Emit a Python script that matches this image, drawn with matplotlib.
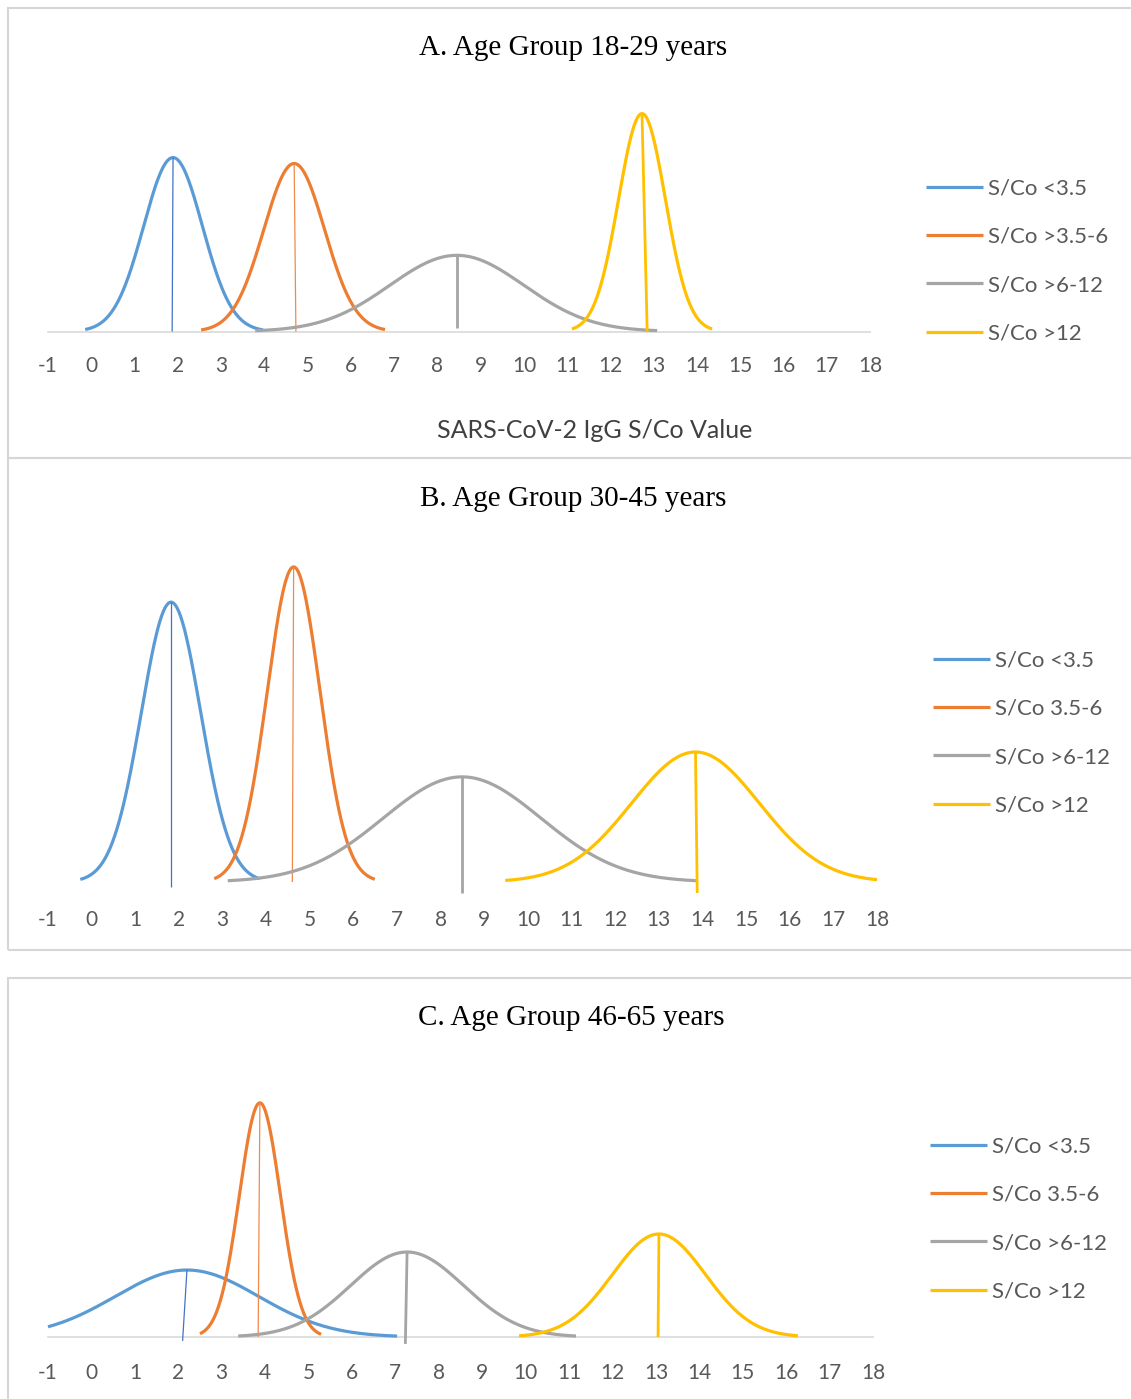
import numpy as np
import matplotlib
matplotlib.use('Agg')
import matplotlib.pyplot as plt
from matplotlib.patches import Rectangle

W, H = 1131, 1399

# ---------------- data ----------------
x_ticks = list(range(-1, 19))
series_colors = ['#5B9BD5', '#ED7D31', '#A5A5A5', '#FFC000']
mean_line_colors = ['#4472C4', '#F08A4B', '#A5A5A5', '#FFC000']
mean_line_widths = [0.9, 0.9, 2.0, 2.0]

titles = ['A. Age Group 18-29 years', 'B. Age Group 30-45 years', 'C. Age Group 46-65 years']
labels_A = ['S/Co <3.5', 'S/Co >3.5-6', 'S/Co >6-12', 'S/Co >12']
labels_B = ['S/Co <3.5', 'S/Co 3.5-6', 'S/Co >6-12', 'S/Co >12']
labels_C = ['S/Co <3.5', 'S/Co 3.5-6', 'S/Co >6-12', 'S/Co >12']
x_axis_title = 'SARS-CoV-2 IgG S/Co Value'

# Panel A (18-29 years): normal curves
means_A = [1.89, 4.69, 8.45, 12.73]
sds_A = [0.679, 0.703, 1.55, 0.542]
start_A = [-0.14, 2.54, 3.79, 11.11]
end_A = [3.97, 6.79, 13.08, 14.35]
vline_x_bottom_A = [1.87, 4.73, 8.45, 12.85]
vline_y_bottom_A = [0.0, 0.0, 0.012, 0.0]

# Panel B (30-45 years)
means_B = [1.82, 4.63, 8.49, 13.84]
sds_B = [0.680, 0.604, 1.81, 1.464]
start_B = [-0.26, 2.81, 3.12, 9.48]
end_B = [3.85, 6.49, 13.86, 18.0]
vline_x_bottom_B = [1.82, 4.60, 8.49, 13.88]
vline_y_bottom_B = [-0.010, 0.0, -0.023, -0.023]

# Panel C (46-65 years)
means_C = [2.20, 3.88, 7.27, 13.07]
sds_C = [1.65, 0.472, 1.30, 1.073]
start_C = [-1.0, 2.50, 3.38, 9.85]
end_C = [7.04, 5.29, 11.16, 16.27]
vline_x_bottom_C = [2.10, 3.84, 7.23, 13.05]
vline_y_bottom_C = [-0.014, 0.0, -0.025, 0.0]

# ---------------- layout (pixels) ----------------
panels = [
    dict(means=means_A, sds=sds_A, start=start_A, end=end_A, vxb=vline_x_bottom_A, vyb=vline_y_bottom_A,
         labels=labels_A, left=48, right=870, base=331.5, top=90, scale=296, axis_line=True,
         title_y=48, title_x=573, tick_pad=18, leg_x=926, leg_y=261),
    dict(means=means_B, sds=sds_B, start=start_B, end=end_B, vxb=vline_x_bottom_B, vyb=vline_y_bottom_B,
         labels=labels_B, left=48, right=877, base=882, top=540, scale=477, axis_line=False,
         title_y=499, title_x=573, tick_pad=20, leg_x=933, leg_y=733),
    dict(means=means_C, sds=sds_C, start=start_C, end=end_C, vxb=vline_x_bottom_C, vyb=vline_y_bottom_C,
         labels=labels_C, left=48, right=873, base=1337, top=1080, scale=277, axis_line=True,
         title_y=1018, title_x=571, tick_pad=19, leg_x=930, leg_y=1219),
]
borders = [(8, 8, 458), (8, 458, 950), (8, 978, 1410)]

fig = plt.figure(figsize=(W / 100, H / 100), dpi=100)
fig.patch.set_facecolor('white')

for (bx, by0, by1) in borders:
    fig.patches.append(Rectangle((bx / W, 1 - by1 / H), (W + 20 - bx) / W, (by1 - by0) / H,
                                 transform=fig.transFigure, fill=False,
                                 edgecolor='#D6D6D6', linewidth=1.5))


def pdf(x, m, s):
    return np.exp(-0.5 * ((x - m) / s) ** 2) / (s * np.sqrt(2 * np.pi))


for k, p in enumerate(panels):
    ax = fig.add_axes([p['left'] / W, 1 - p['base'] / H,
                       (p['right'] - p['left']) / W, (p['base'] - p['top']) / H])
    ax.set_xlim(-1, 18)
    ax.set_ylim(0, (p['base'] - p['top']) / p['scale'])
    ax.patch.set_alpha(0)
    handles = []
    for i in range(4):
        m, s = p['means'][i], p['sds'][i]
        xs = np.linspace(p['start'][i], p['end'][i], 300)
        ln, = ax.plot(xs, pdf(xs, m, s), color=series_colors[i], lw=2.3,
                      solid_capstyle='butt', clip_on=False, label=p['labels'][i])
        handles.append(ln)
        ax.plot([p['vxb'][i], m], [p['vyb'][i], pdf(m, m, s)], color=mean_line_colors[i],
                lw=mean_line_widths[i], clip_on=False, solid_capstyle='butt')
    for sp in ['top', 'left', 'right']:
        ax.spines[sp].set_visible(False)
    if p['axis_line']:
        ax.spines['bottom'].set_color('#D9D9D9')
        ax.spines['bottom'].set_linewidth(1.2)
    else:
        ax.spines['bottom'].set_visible(False)
    ax.spines['bottom'].set_zorder(0)
    ax.set_yticks([])
    ax.set_xticks(x_ticks)
    ax.set_xticklabels([str(t) for t in x_ticks])
    ax.tick_params(axis='x', length=0, pad=p['tick_pad'], labelsize=15, labelcolor='#595959')
    for lbl in ax.get_xticklabels():
        lbl.set_fontfamily('Lato')
    leg = ax.legend(handles=handles, loc='center left',
                    bbox_to_anchor=(p['leg_x'] / W, 1 - p['leg_y'] / H),
                    bbox_transform=fig.transFigure, frameon=False,
                    prop={'family': 'Lato', 'size': 16}, handlelength=2.57,
                    handletextpad=0.23, labelspacing=1.27, borderpad=0, borderaxespad=0)
    for t in leg.get_texts():
        t.set_color('#595959')
    for lh in leg.get_lines():
        lh.set_linewidth(2.3)
    fig.text(p['title_x'] / W, 1 - p['title_y'] / H, titles[k],
             ha='center', va='center', family='Liberation Serif', size=21, color='black')

fig.text(595 / W, 1 - 430 / H, x_axis_title, ha='center', va='center',
         family='Lato', size=18, color='#404040')

fig.savefig('out.png', dpi=100, facecolor='white')
